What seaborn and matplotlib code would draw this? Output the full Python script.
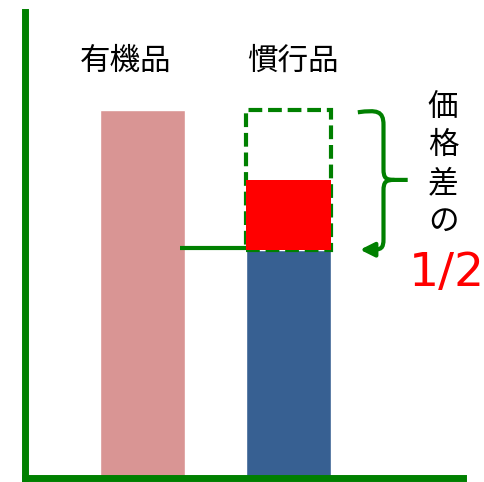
import matplotlib
matplotlib.use("Agg")
import matplotlib.pyplot as plt
import seaborn as sns
from matplotlib.path import Path
from matplotlib.patches import PathPatch

# data
categories = ["有機品", "慣行品"]
prices = [100, 62]
half_gap_label = "1/2"
gap_label = "価格差の"

organic, conventional = prices
half_gap = (organic - conventional) / 2

sns.set_theme(style="white")
plt.rcParams['font.family'] = ['Noto Sans CJK JP', 'DejaVu Sans']

GREEN = "#008000"
PINK = "#D99594"
BLUE = "#376092"
RED = "#FF0000"

fig = plt.figure(figsize=(4.85, 4.82), dpi=100)
ax = fig.add_axes([25/485, (482-477.5)/482, (463-25)/485, (477.5-12)/482])

W = 0.578
sns.barplot(x=categories, y=prices, hue=categories, palette=[PINK, BLUE],
            width=W, legend=False, ax=ax, saturation=1, zorder=1)

# dashed outline of organic price on conventional bar
ax.bar(1, organic - conventional, bottom=conventional, width=W, fill=False,
       edgecolor=GREEN, linestyle=(0, (3.3, 1.4)), linewidth=3, zorder=2)
# red half-gap
ax.bar(1, half_gap, bottom=conventional, width=W, color=RED, linewidth=0, zorder=3)

# connecting line
ax.plot([W/2 - 0.03, 1 - W/2], [conventional + 0.4, conventional + 0.4],
        color=GREEN, lw=3, solid_capstyle='butt', zorder=4)

# brace
xb = 1.645
xs = 1.47
mid = (organic + conventional) / 2
verts = [(xs, organic - 0.6), (1.60, organic + 0.1), (xb, organic - 0.2), (xb, organic - 4),
         (xb, mid + 3), (xb, mid + 0.5), (1.66, mid), (1.72, mid),
         (1.81, mid)]
codes = [Path.MOVETO, Path.CURVE4, Path.CURVE4, Path.CURVE4,
         Path.LINETO, Path.CURVE4, Path.CURVE4, Path.CURVE4, Path.LINETO]
ax.add_patch(PathPatch(Path(verts, codes), fill=False, edgecolor=GREEN, lw=3, zorder=4))
verts2 = [(1.72, mid), (1.66, mid), (xb, mid - 0.5), (xb, mid - 3),
          (xb, conventional + 3), (xb, conventional + 0.3), (1.63, conventional), (1.56, conventional)]
codes2 = [Path.MOVETO, Path.CURVE4, Path.CURVE4, Path.CURVE4,
          Path.LINETO, Path.CURVE4, Path.CURVE4, Path.CURVE4]
ax.add_patch(PathPatch(Path(verts2, codes2), fill=False, edgecolor=GREEN, lw=3, zorder=4))
ax.annotate("", xy=(1.485, conventional), xytext=(1.57, conventional),
            arrowprops=dict(arrowstyle="-|>,head_length=0.7,head_width=0.35",
                            color=GREEN, lw=3, shrinkA=0, shrinkB=0), zorder=4)

# category labels above bars
label_offsets = [-0.11, 0.03]
for i, (c, off) in enumerate(zip(categories, label_offsets)):
    ax.text(i + off, 113.2, c, ha='center', va='center', fontsize=22, color='black')

# vertical text
for k, ch in enumerate(gap_label):
    ax.text(2.051, 100.6 - 10.3 * k, ch, ha='center', va='center', fontsize=22, color='black')
ax.text(2.075, 55.5, half_gap_label, ha='center', va='center', fontsize=34,
        color=RED, family=['DejaVu Sans'])

ax.set_xlim(-0.799, 2.187)
ax.set_ylim(0, 126.7)
ax.set_xticks([])
ax.set_yticks([])
ax.set_xlabel("")
ax.set_ylabel("")
for s in ['top', 'right']:
    ax.spines[s].set_visible(False)
for s in ['left', 'bottom']:
    ax.spines[s].set_color(GREEN)
    ax.spines[s].set_linewidth(5)
    ax.spines[s].set_zorder(5)

fig.savefig("out.png", dpi=100)
